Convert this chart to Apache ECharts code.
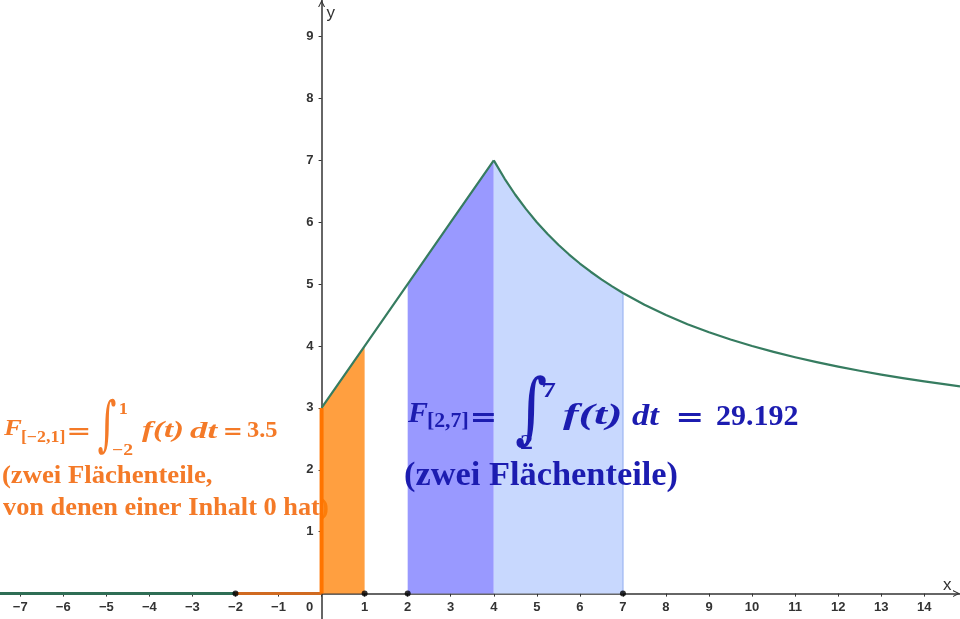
<!DOCTYPE html>
<html><head><meta charset="utf-8">
<script src="https://cdn.jsdelivr.net/npm/echarts@6/dist/echarts.min.js"></script>
<style>html,body{margin:0;padding:0;background:#fff}#c{width:960px;height:619px}</style>
</head><body><div id="c"></div>
<script>
// ---- data ----
const xRange = [-7.47, 14.83];
const yRange = [-0.41, 9.59];
const zeroPartLeft = [[-7.47, 0], [-2, 0]];          // f(t)=0 for t<0 (outside the integral)
const zeroPartInt = [[-2, 0], [0, 0]];               // f(t)=0 inside [-2,1]
const jumpEdge = [[0, 0], [0, 3]];                   // left edge of orange area
const linearPart = [[0, 3], [1, 4], [2, 5], [3, 6], [4, 7]];
const curvePart = [[4, 7], [4.25, 6.706], [4.5, 6.444], [4.75, 6.211], [5, 6], [5.25, 5.81], [5.5, 5.636],
  [5.75, 5.478], [6, 5.333], [6.25, 5.2], [6.5, 5.077], [6.75, 4.963], [7, 4.857], [7.5, 4.667], [8, 4.5],
  [8.5, 4.353], [9, 4.222], [9.5, 4.105], [10, 4], [10.5, 3.905], [11, 3.818], [11.5, 3.739], [12, 3.667],
  [12.5, 3.6], [13, 3.538], [13.5, 3.481], [14, 3.429], [14.5, 3.379], [14.83, 3.349]];
const orangeArea = [[0, 3], [1, 4]];
const darkBlueArea = [[2, 5], [3, 6], [4, 7]];
const lightBlueArea = [[4, 7], [4.25, 6.706], [4.5, 6.444], [4.75, 6.211], [5, 6], [5.25, 5.81], [5.5, 5.636],
  [5.75, 5.478], [6, 5.333], [6.25, 5.2], [6.5, 5.077], [6.75, 4.963], [7, 4.857]];
const markedPoints = [[-2, 0], [1, 0], [2, 0], [7, 0]];

// ---- styles ----
const GREEN = '#367c60';
const ORANGE_TXT = '#f47a28';
const BLUE_TXT = '#1c1cb0';
const SERIF = '"Liberation Serif", "Times New Roman", serif';
const MATHSYM = '"DejaVu Serif", serif';
const LABEL_FONT = '"Liberation Sans", Arial, sans-serif';
const W = 960, H = 619;

const mctx = document.createElement('canvas').getContext('2d');
function piece(text, x0, x1, yc, size, color, z, opt) {
  opt = opt || {};
  const fam = opt.family || SERIF;
  const fst = opt.italic ? 'italic' : 'normal';
  const fw = opt.weight || 'bold';
  mctx.font = fst + ' ' + fw + ' ' + size + 'px ' + fam;
  mctx.textBaseline = 'middle';
  mctx.textAlign = 'left';
  const m = mctx.measureText(text);
  const L = m.actualBoundingBoxLeft, R = m.actualBoundingBoxRight;
  const A = m.actualBoundingBoxAscent, D = m.actualBoundingBoxDescent;
  const sx = (x1 - x0) / (L + R);
  let sy = 1, cy = yc;
  if (opt.y0 != null) { sy = (opt.y1 - opt.y0) / (A + D); cy = (opt.y0 + opt.y1) / 2; }
  return {
    type: 'text', z: z, x: x0 + L * sx, y: cy - (D - A) / 2 * sy,
    scaleX: sx, scaleY: sy, originX: 0, originY: 0, silent: true,
    style: { text: text, x: 0, y: 0, fill: color, fontFamily: fam, fontSize: size, fontStyle: fst, fontWeight: fw,
      align: 'left', verticalAlign: 'middle', textAlign: 'left', textVerticalAlign: 'middle' }
  };
}
const EQ = {family: MATHSYM};

const texts = [
  // blue formula
  piece('F', 407, 428, 412.5, 30, BLUE_TXT, 100, {italic: true}),
  piece('[2,7]', 428, 468, 421, 20, BLUE_TXT, 100),
  piece('=', 472, 495, 417, 26, BLUE_TXT, 100, EQ),
  piece('\u222B', 516, 546, 0, 70, BLUE_TXT, 100, {family: MATHSYM, weight: 'normal', y0: 375, y1: 448}),
  piece('7', 543, 556, 390, 20, BLUE_TXT, 100),
  piece('2', 520, 533, 442, 20, BLUE_TXT, 100),
  piece('f(t)', 563, 620, 417, 29, BLUE_TXT, 100, {italic: true}),
  piece('dt', 632, 660, 414.5, 29, BLUE_TXT, 100, {italic: true}),
  piece('=', 678, 702, 417.5, 26, BLUE_TXT, 100, EQ),
  piece('29.192', 717, 798, 415, 29, BLUE_TXT, 100),
  piece('(zwei Fl\u00e4chenteile)', 405, 677, 477, 33, BLUE_TXT, 100),
  // orange formula
  piece('F', 3, 22, 427.5, 24, ORANGE_TXT, 1, {italic: true}),
  piece('[\u22122,1]', 22, 65, 437.5, 16, ORANGE_TXT, 1),
  piece('=', 69, 89, 431, 21, ORANGE_TXT, 1, EQ),
  piece('\u222B', 98, 116, 0, 60, ORANGE_TXT, 1, {family: MATHSYM, weight: 'normal', y0: 398, y1: 455}),
  piece('1', 120, 128, 408.5, 16, ORANGE_TXT, 1),
  piece('\u22122', 112, 133, 449, 16, ORANGE_TXT, 1),
  piece('f(t)', 142, 183, 431, 23, ORANGE_TXT, 1, {italic: true}),
  piece('dt', 190, 218, 430, 23, ORANGE_TXT, 1, {italic: true}),
  piece('=', 225, 241, 431, 21, ORANGE_TXT, 1, EQ),
  piece('3.5', 247, 277, 429.5, 23, ORANGE_TXT, 1),
  piece('(zwei Fl\u00e4chenteile,', 3, 212, 476.5, 26, ORANGE_TXT, 1),
  piece('von denen einer Inhalt 0 hat)', 3, 328, 508.5, 26, ORANGE_TXT, 1)
];

const chevron = 'path://M0,10 L5,0 L10,10 L8.4,10 L5,3.2 L1.6,10 Z';
function fmtNum(v) {
  if (Math.abs(v - Math.round(v)) > 1e-6) return '';
  v = Math.round(v);
  return v < 0 ? '\u2212' + (-v) : String(v);
}

// axes cross at the origin: shift each axis from the grid edge to the zero of the other axis
const yAxisShift = -(0 - xRange[0]) / (xRange[1] - xRange[0]) * W;
const xAxisShift = -(0 - yRange[0]) / (yRange[1] - yRange[0]) * H;

const chart = echarts.init(document.getElementById('c'), null, {renderer: 'canvas'});
const axisCommon = {
  type: 'value',
  splitLine: {show: false},
  axisTick: {show: true, length: 3, lineStyle: {color: '#333', width: 1}},
  axisLine: {onZero: false, lineStyle: {color: '#333', width: 1.5},
    symbol: ['none', chevron], symbolSize: [11, 7], symbolOffset: [0, -3.5]}
};
const labelStyle = {color: '#333', fontFamily: LABEL_FONT, fontWeight: 'bold', fontSize: 13};

chart.setOption({
  animation: false,
  grid: {left: 0, right: 0, top: 0, bottom: 0, containLabel: false, outerBoundsMode: 'none'},
  xAxis: Object.assign({}, axisCommon, {
    position: 'bottom', offset: xAxisShift,
    min: xRange[0], max: xRange[1], splitNumber: 22,
    axisLabel: Object.assign({}, labelStyle, {
      margin: 7, showMinLabel: false, showMaxLabel: false,
      formatter: function (v) { return Math.abs(v) < 1e-9 ? '{o|0}' : fmtNum(v); },
      rich: {o: Object.assign({}, labelStyle, {padding: [0, 24, 0, 0]})}
    }),
    name: 'x', nameLocation: 'end', nameGap: -17,
    nameTextStyle: {fontFamily: LABEL_FONT, fontSize: 17, color: '#333', align: 'left', verticalAlign: 'bottom'}
  }),
  yAxis: Object.assign({}, axisCommon, {
    position: 'left', offset: yAxisShift,
    min: yRange[0], max: yRange[1], splitNumber: 10,
    axisLabel: Object.assign({}, labelStyle, {
      margin: 8, showMinLabel: false, showMaxLabel: false,
      formatter: function (v) { return Math.abs(v) < 1e-9 ? '' : fmtNum(v); }
    }),
    name: 'y', nameLocation: 'end', nameGap: -22,
    nameTextStyle: {fontFamily: LABEL_FONT, fontSize: 17, color: '#333', align: 'left', verticalAlign: 'bottom', padding: [0, 0, 0, 5]}
  }),
  graphic: {elements: texts},
  series: [
    {type: 'line', data: orangeArea, showSymbol: false, symbol: 'none', z: 2,
      lineStyle: {width: 0}, areaStyle: {color: '#ff7f00', opacity: 0.75}},
    {type: 'line', data: darkBlueArea, showSymbol: false, symbol: 'none', z: 2,
      lineStyle: {width: 0}, areaStyle: {color: '#9999ff', opacity: 1}},
    {type: 'line', data: lightBlueArea, showSymbol: false, symbol: 'none', z: 2,
      lineStyle: {width: 0}, areaStyle: {color: '#c8d8fe', opacity: 1}},
    {type: 'line', data: [[lightBlueArea[lightBlueArea.length - 1][0], 0], lightBlueArea[lightBlueArea.length - 1]],
      showSymbol: false, symbol: 'none', z: 3, lineStyle: {width: 1.5, color: '#a9bff5'}},
    {type: 'line', data: zeroPartLeft, showSymbol: false, symbol: 'none', z: 4,
      lineStyle: {width: 3, color: '#2f6e55'}},
    {type: 'line', data: zeroPartInt, showSymbol: false, symbol: 'none', z: 4,
      lineStyle: {width: 3, color: '#d06a20'}},
    {type: 'line', data: jumpEdge, showSymbol: false, symbol: 'none', z: 4,
      lineStyle: {width: 4, color: '#ff7400'}},
    {type: 'line', data: linearPart, showSymbol: false, symbol: 'none', z: 5,
      lineStyle: {width: 2.2, color: GREEN}},
    {type: 'line', data: curvePart, showSymbol: false, symbol: 'none', z: 5,
      lineStyle: {width: 2.2, color: GREEN, join: 'round'}},
    {type: 'scatter', data: markedPoints, symbolSize: 6, z: 10, itemStyle: {color: '#000'}}
  ]
});
</script>
</body></html>
